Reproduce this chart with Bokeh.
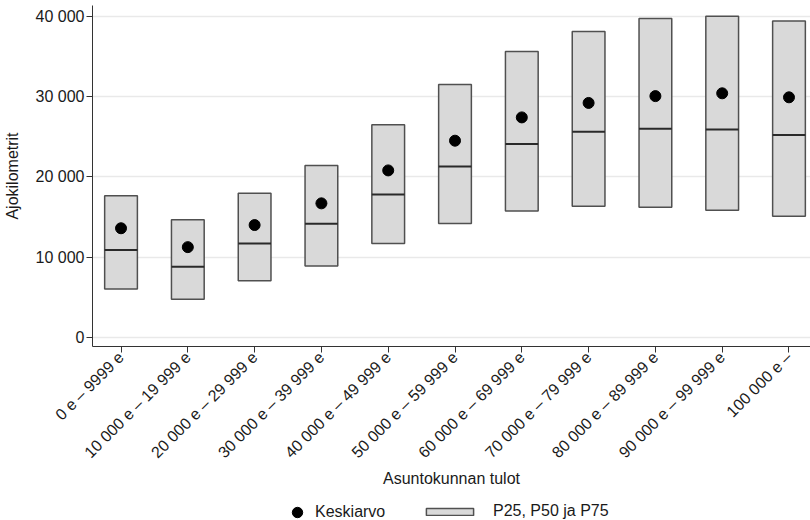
import math
from bokeh.plotting import figure
from bokeh.layouts import column
from bokeh.models import (ColumnDataSource, FixedTicker, Legend, LegendItem, Range1d)
from bokeh.transform import dodge
from bokeh.embed import file_html
from bokeh.resources import INLINE

categories = ["0 e – 9999 e", "10 000 e – 19 999 e", "20 000 e – 29 999 e",
              "30 000 e – 39 999 e", "40 000 e – 49 999 e", "50 000 e – 59 999 e",
              "60 000 e – 69 999 e", "70 000 e – 79 999 e", "80 000 e – 89 999 e",
              "90 000 e – 99 999 e", "100 000 e –"]
p25 = [6050, 4750, 7050, 8900, 11700, 14200, 15750, 16350, 16200, 15850, 15100]
p50 = [10900, 8800, 11700, 14150, 17800, 21300, 24100, 25600, 26000, 25900, 25200]
p75 = [17650, 14650, 17950, 21400, 26500, 31500, 35600, 38100, 39700, 40000, 39400]
mean = [13600, 11250, 14000, 16700, 20800, 24500, 27400, 29200, 30050, 30400, 29900]
y_ticks = [0, 10000, 20000, 30000, 40000]
y_tick_labels = ["0", "10 000", "20 000", "30 000", "40 000"]
legend_labels = ["Keskiarvo", "P25, P50 ja P75"]

FONT = "Liberation Sans"
TXT = "#1a1a1a"
BOX_FILL = "#d9d9d9"
BOX_LINE = "#505050"

src = ColumnDataSource(dict(x=list(range(len(categories))), p25=p25, p50=p50, p75=p75, mean=mean))

p = figure(width=810, height=492, x_range=Range1d(-0.427, 10.322), y_range=Range1d(-1120, 41330),
           output_backend="svg", toolbar_location=None,
           min_border_left=92, min_border_top=5, min_border_right=0, min_border_bottom=146)
p.outline_line_color = None

p.vbar(x="x", width=0.49, bottom="p25", top="p75", source=src,
       fill_color=BOX_FILL, line_color=BOX_LINE, line_width=1.5)
p.segment(x0=dodge("x", -0.245), y0="p50", x1=dodge("x", 0.245), y1="p50", source=src,
          line_color="#2a2a2a", line_width=2)
p.scatter("x", "mean", source=src, size=11, color="black")

xa = p.xaxis[0]
xa.ticker = FixedTicker(ticks=list(range(len(categories))))
xa.major_label_overrides = {i: c for i, c in enumerate(categories)}
xa.major_label_orientation = math.pi / 4
xa.axis_label = "Asuntokunnan tulot"
ya = p.yaxis[0]
ya.ticker = FixedTicker(ticks=y_ticks)
ya.major_label_overrides = {t: l for t, l in zip(y_ticks, y_tick_labels)}
ya.axis_label = "Ajokilometrit"
for ax in (xa, ya):
    ax.minor_tick_line_color = None
    ax.major_tick_in = 0
    ax.major_tick_out = 6
    ax.axis_line_color = "#333333"
    ax.major_tick_line_color = "#333333"
    ax.major_label_text_font = FONT
    ax.major_label_text_font_size = "16px"
    ax.major_label_text_color = TXT
    ax.axis_label_text_font = FONT
    ax.axis_label_text_font_size = "16px"
    ax.axis_label_text_font_style = "normal"
    ax.axis_label_text_color = TXT
    ax.major_label_standoff = 2
ya.axis_label_standoff = 12
xa.axis_label_standoff = 0

p.xgrid.visible = False
p.ygrid.grid_line_color = "#e9e9e9"
p.ygrid.grid_line_width = 1.5

# legend strip (proxy renderers hold a single NaN row so nothing is drawn in the strip)
pl = figure(width=810, height=28, x_range=Range1d(0, 718), y_range=Range1d(0, 28),
            output_backend="svg", toolbar_location=None,
            min_border_left=0, min_border_right=0, min_border_top=0, min_border_bottom=0)
pl.axis.visible = False
pl.grid.visible = False
pl.outline_line_color = None
nan = float("nan")
dot_r = pl.scatter(x=[nan], y=[nan], size=11, color="black")
box_r = pl.vbar(x=[nan], top=[nan], width=1, fill_color=BOX_FILL, line_color=BOX_LINE, line_width=1.5)

def mk_legend(item, x, y, gw, gh, standoff):
    lg = Legend(items=[item], location=(x, y), orientation="horizontal",
                glyph_width=gw, glyph_height=gh, label_standoff=standoff, label_height=16,
                padding=0, margin=0, spacing=0,
                border_line_color=None, background_fill_alpha=0,
                label_text_font=FONT, label_text_font_size="16px", label_text_color=TXT)
    pl.add_layout(lg, "center")

mk_legend(LegendItem(label=legend_labels[0], renderers=[dot_r]), 192, -5, 26, 26, 5)
mk_legend(LegendItem(label=legend_labels[1], renderers=[box_r]), 328, 0, 59, 9, 14)

layout = column(p, pl)
open("out.html", "w").write(file_html(layout, INLINE))
